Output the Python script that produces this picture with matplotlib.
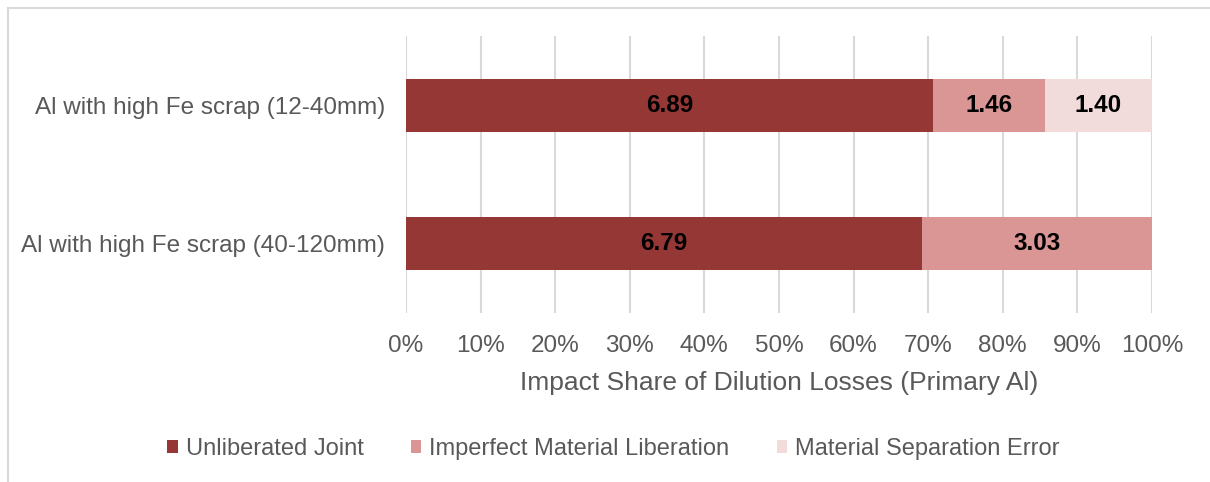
import matplotlib
matplotlib.use('Agg')
import matplotlib.pyplot as plt
from matplotlib.patches import Patch
from matplotlib.lines import Line2D
from matplotlib.ticker import PercentFormatter

plt.rcParams['font.family'] = ['Liberation Sans', 'DejaVu Sans']

# scrap classes, bottom to top
categories = ['Al with high Fe scrap (40-120mm)', 'Al with high Fe scrap (12-40mm)']
series_names = ['Unliberated Joint', 'Imperfect Material Liberation', 'Material Separation Error']
unliberated = [6.79, 6.89]
imperfect = [3.03, 1.46]
separation = [0.0, 1.40]
colors = ['#953735', '#D99694', '#F2DCDB']

values = [unliberated, imperfect, separation]
totals = [sum(v) for v in zip(*values)]

fig = plt.figure(figsize=(12.1, 4.82), dpi=100)
ax = fig.add_axes([0.3355, 0.3506, 0.6165, 0.5747])

grey = '#595959'
left = [0.0] * len(categories)
for name, vals, col in zip(series_names, values, colors):
    share = [v / t * 100 for v, t in zip(vals, totals)]
    bars = ax.barh(range(len(categories)), share, left=left, height=0.385,
                   color=col, label=name, zorder=3)
    for b, v, s in zip(bars, vals, share):
        if v > 0:
            ax.text(b.get_x() + s / 2, b.get_y() + b.get_height() / 2, f'{v:.2f}',
                    ha='center', va='center', fontsize=17.5, fontweight='bold',
                    color='black', zorder=4)
    left = [l + s for l, s in zip(left, share)]

ax.set_xlim(0, 100)
ax.set_ylim(-0.5, 1.5)
ax.set_xticks(range(0, 101, 10))
ax.xaxis.set_major_formatter(PercentFormatter(decimals=0))
ax.set_yticks(range(len(categories)))
ax.set_yticklabels(categories)
ax.tick_params(axis='both', length=0, labelsize=17.5, colors=grey)
ax.tick_params(axis='x', pad=16)
ax.tick_params(axis='y', pad=15)
ax.grid(axis='x', color='#D9D9D9', linewidth=1.5, zorder=0)
for s in ax.spines.values():
    s.set_visible(False)
ax.set_xlabel('Impact Share of Dilution Losses (Primary Al)', fontsize=19,
              color=grey, labelpad=10)

handles = [Patch(facecolor=c, edgecolor='none') for c in colors]
fig.legend(handles, series_names, loc='center', bbox_to_anchor=(0.507, 1 - 449 / 482),
           ncol=3, frameon=False, fontsize=17, labelcolor=grey,
           handlelength=0.45, handleheight=0.45, handletextpad=0.34, columnspacing=2.0)

# light outer frame along the top and left
border = '#D9D9D9'
fig.add_artist(Line2D([8 / 1210, 1], [1 - 7.5 / 482] * 2, color=border, linewidth=1.5))
fig.add_artist(Line2D([8 / 1210] * 2, [0, 1 - 7.5 / 482], color=border, linewidth=1.5))

fig.savefig('out.png', dpi=100, facecolor='white')
